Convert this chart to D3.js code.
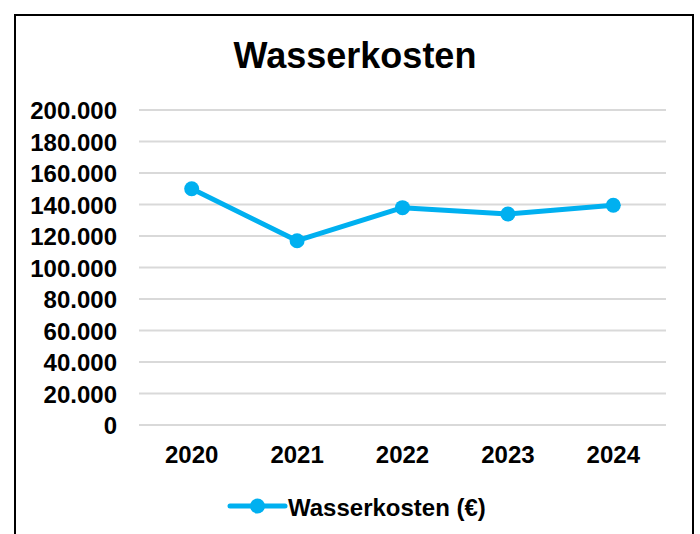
<!DOCTYPE html>
<html>
<head>
<meta charset="UTF-8">
<title>Wasserkosten</title>
<script src="https://cdn.jsdelivr.net/npm/d3@7"></script>
<style>
  body { margin: 0; background: #fff; }
  text { font-family: "Liberation Sans", Arial, sans-serif; font-weight: bold; fill: #000; }
</style>
</head>
<body>
<svg width="700" height="534"></svg>
<script>
// data
var years = ["2020", "2021", "2022", "2023", "2024"];
var kosten = [150000, 117000, 138000, 134000, 139500];
var yTicks = [0, 20000, 40000, 60000, 80000, 100000, 120000, 140000, 160000, 180000, 200000];
var seriesName = "Wasserkosten (€)";
var chartTitle = "Wasserkosten";

var svg = d3.select("svg");
var margin = {top: 110, left: 139, right: 34, bottom: 109};
var width = 700 - margin.left - margin.right;
var height = 534 - margin.top - margin.bottom;

var de = d3.formatLocale({decimal: ",", thousands: ".", grouping: [3], currency: ["", " €"]});
var fmt = de.format(",d");

// rahmen
svg.append("rect")
  .attr("x", 15).attr("y", 15)
  .attr("width", 678).attr("height", 560)
  .attr("fill", "none")
  .attr("stroke", "#000")
  .attr("stroke-width", 2);

svg.append("text")
  .attr("x", 355).attr("y", 68)
  .attr("text-anchor", "middle")
  .style("font-size", "36px")
  .text(chartTitle);

var g = svg.append("g")
  .attr("transform", "translate(" + margin.left + "," + margin.top + ")");

var x = d3.scaleBand().domain(years).range([0, width]);
var y = d3.scaleLinear().domain([0, 200000]).range([height, 0]);

// gitterlinien
g.append("g")
  .selectAll("line")
  .data(yTicks)
  .enter()
  .append("line")
  .attr("x1", 0).attr("x2", width)
  .attr("y1", function(d){ return y(d); })
  .attr("y2", function(d){ return y(d); })
  .attr("stroke", "#d9d9d9")
  .attr("stroke-width", 2);

var yAxis = g.append("g")
  .call(d3.axisLeft(y).tickValues(yTicks).tickFormat(fmt).tickSize(0).tickPadding(22));
yAxis.select(".domain").remove();
yAxis.selectAll("text").style("font-size", "24px").attr("dy", "0.36em");

var xAxis = g.append("g")
  .attr("transform", "translate(0," + height + ")")
  .call(d3.axisBottom(x).tickSize(0).tickPadding(21));
xAxis.select(".domain").remove();
xAxis.selectAll("text").style("font-size", "24px");

var line = d3.line()
  .x(function(d, i){ return x(years[i]) + x.bandwidth() / 2; })
  .y(function(d){ return y(d); });

g.append("path")
  .datum(kosten)
  .attr("d", line)
  .attr("fill", "none")
  .attr("stroke", "#00b0f0")
  .attr("stroke-width", 5)
  .attr("stroke-linejoin", "round");

g.selectAll(".pt")
  .data(kosten)
  .enter()
  .append("circle")
  .attr("class", "pt")
  .attr("cx", function(d, i){ return x(years[i]) + x.bandwidth() / 2; })
  .attr("cy", function(d){ return y(d); })
  .attr("r", 7.5)
  .attr("fill", "#00b0f0");

// legende
var leg = svg.append("g").attr("transform", "translate(230,506)");
leg.append("line")
  .attr("x1", 0).attr("x2", 55)
  .attr("stroke", "#00b0f0")
  .attr("stroke-width", 5)
  .attr("stroke-linecap", "round");
leg.append("circle").attr("cx", 27.5).attr("r", 7.5).attr("fill", "#00b0f0");
leg.append("text")
  .attr("x", 58).attr("y", 10)
  .style("font-size", "24px")
  .text(seriesName);
</script>
</body>
</html>
